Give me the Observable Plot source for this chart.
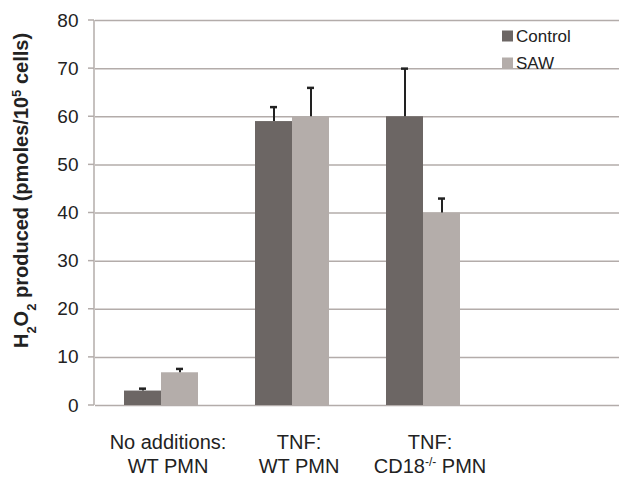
<!DOCTYPE html>
<html>
<head>
<meta charset="utf-8">
<script src="https://cdn.jsdelivr.net/npm/d3@7"></script>
<script src="https://cdn.jsdelivr.net/npm/@observablehq/plot@0.6"></script>
<style>
  html, body { margin: 0; padding: 0; background: #fff; overflow: hidden; }
  #chart svg { display: block; }
</style>
</head>
<body>
<div id="chart"></div>
<script>
// ---- data ----
const groupKeys = ["none", "tnfWT", "tnfCD18", "empty"];
const groupLabels = ["No additions:\nWT PMN", "TNF:\nWT PMN", "TNF:\nCD18-/- PMN", ""];
const seriesNames = ["Control", "SAW"];
const controlValues = [3, 59, 60];
const controlErrors = [0.5, 3, 10];
const sawValues = [6.8, 60, 40];
const sawErrors = [0.8, 6, 3];
const yTicks = [0, 10, 20, 30, 40, 50, 60, 70, 80];
const seriesColors = ["#6c6664", "#b4adaa"];

// ---- tables ----
const rows = [];
controlValues.forEach((v, i) => rows.push({g: groupKeys[i], s: seriesNames[0], v, e: controlErrors[i]}));
sawValues.forEach((v, i) => rows.push({g: groupKeys[i], s: seriesNames[1], v, e: sawErrors[i]}));
const gridRows = groupKeys.flatMap(g => yTicks.map(t => ({g, t})));
const labelRows = groupKeys.map((g, i) => ({g, label: groupLabels[i]}));

const gridColor = "#b3acaa";
const font = "'Liberation Sans', Arial, Helvetica, sans-serif";

const chart = Plot.plot({
  width: 620,
  height: 478,
  marginLeft: 94,
  marginRight: 0,
  marginTop: 20,
  marginBottom: 73,
  style: {fontFamily: font, fontSize: "19px", color: "#222", background: "#fff"},
  fx: {domain: groupKeys, padding: 0, axis: null},
  x: {domain: seriesNames, paddingInner: 0, paddingOuter: 0.75, axis: null},
  y: {domain: [0, 80], ticks: yTicks, tickSize: 0, tickPadding: 17, label: null, grid: false},
  color: {domain: seriesNames, range: seriesColors},
  marks: [
    Plot.ruleY(gridRows, {fx: "g", y: "t", stroke: gridColor, strokeWidth: 1.5}),
    Plot.barY(rows, {fx: "g", x: "s", y: "v", fill: "s"}),
    Plot.ruleX(rows, {fx: "g", x: "s", y1: "v", y2: d => d.v + d.e, stroke: "#222", strokeWidth: 2}),
    Plot.tickY(rows, {fx: "g", x: "s", y: d => d.v + d.e, stroke: "#222", strokeWidth: 2.5, insetLeft: 15, insetRight: 15}),
    Plot.text(labelRows, {fx: "g", text: "label", frameAnchor: "bottom", dx: 7, dy: 48, lineAnchor: "middle", lineHeight: 1.2, fontSize: 20, fill: "#222"})
  ]
});

const svg = d3.select(chart.tagName.toLowerCase() === "svg" ? chart : chart.querySelector("svg"));

// y axis line and outer ticks (drawn with the y scale)
const y = chart.scale("y");
const axisG = svg.append("g");
axisG.append("line")
  .attr("x1", 94).attr("x2", 94)
  .attr("y1", y.apply(0)).attr("y2", y.apply(80))
  .attr("stroke", gridColor).attr("stroke-width", 1.5);
axisG.selectAll("line.t").data(yTicks).join("line")
  .attr("class", "t")
  .attr("x1", 88).attr("x2", 94)
  .attr("y1", d => y.apply(d)).attr("y2", d => y.apply(d))
  .attr("stroke", gridColor).attr("stroke-width", 1.5);

// superscript in CD18-/-
svg.selectAll("tspan").each(function() {
  if (this.textContent === "CD18-/- PMN") {
    const t = d3.select(this);
    t.text("");
    t.append("tspan").text("CD18");
    t.append("tspan").attr("baseline-shift", "super").attr("font-size", "12px").text("-/-");
    t.append("tspan").text(" PMN");
  }
});

// y label
const yl = svg.append("text")
  .attr("transform", `translate(28,${(y.apply(0) + y.apply(80)) / 2 - 22}) rotate(-90)`)
  .attr("text-anchor", "middle")
  .attr("font-family", font)
  .attr("font-weight", "bold")
  .attr("font-size", "20px")
  .attr("fill", "#222");
yl.append("tspan").text("H");
yl.append("tspan").attr("baseline-shift", "sub").attr("font-size", "13px").text("2");
yl.append("tspan").text("O");
yl.append("tspan").attr("baseline-shift", "sub").attr("font-size", "13px").text("2");
yl.append("tspan").text(" produced (pmoles/10");
yl.append("tspan").attr("baseline-shift", "super").attr("font-size", "13px").text("5");
yl.append("tspan").text(" cells)");

// legend
const leg = svg.append("g").attr("font-family", font).attr("font-size", "17px").attr("fill", "#222").attr("text-anchor", "start");
seriesNames.forEach((s, i) => {
  const cy = 36 + i * 27;
  leg.append("rect").attr("x", 502).attr("y", cy - 5.5).attr("width", 11).attr("height", 11).attr("fill", seriesColors[i]);
  leg.append("text").attr("x", 516).attr("y", cy).attr("dy", "0.36em").text(s);
});

document.getElementById("chart").appendChild(chart);
</script>
</body>
</html>
